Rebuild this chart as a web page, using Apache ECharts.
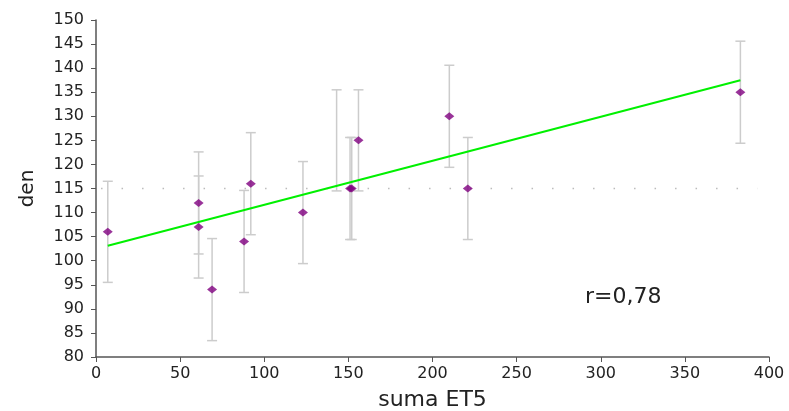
<!DOCTYPE html>
<html><head><meta charset="utf-8">
<script src="https://cdn.jsdelivr.net/npm/echarts@6/dist/echarts.min.js"></script>
<style>html,body{margin:0;padding:0;background:#fff}#c{width:789px;height:411px}</style>
</head><body><div id="c"></div>
<script>
// data
var xVals  = [7, 61, 61, 69, 88, 92, 123, 143, 151, 152, 156, 210, 221, 383];
var means  = [106, 112, 107, 94, 104, 116, 110, null, 115, 115, 125, 130, 115, 135];
var errLow = [95.5, 101.4, 96.4, 83.4, 93.4, 105.4, 99.4, 114.5, 104.4, 104.4, 114.5, 119.4, 104.4, 124.4];
var errHigh= [116.5, 122.6, 117.6, 104.6, 114.6, 126.6, 120.6, 135.5, 125.6, 125.6, 135.5, 140.6, 125.6, 145.6];
var regX = [7, 383];
var regY = [103.1, 137.5];
var meanLineX = [3, 393];
var meanLineY = 115;
var rText = 'r=0,78';

var FONT = 'DejaVu Sans';
var chart = echarts.init(document.getElementById('c'));
var pts = [], errs = [];
for (var i = 0; i < xVals.length; i++) {
  if (means[i] !== null) pts.push([xVals[i], means[i]]);
  errs.push([xVals[i], errLow[i], errHigh[i]]);
}
chart.setOption({
  animation: false,
  grid: {left: 96, right: 20, top: 20, bottom: 54, containLabel: false, outerBoundsMode: 'none'},
  xAxis: {
    type: 'value', min: 0, max: 400, interval: 50,
    name: 'suma ET5', nameLocation: 'middle', nameGap: 32,
    nameTextStyle: {fontFamily: FONT, fontSize: 22, color: '#222'},
    axisLine: {lineStyle: {color: '#555', width: 1.5}},
    axisTick: {show: true, length: 5, lineStyle: {color: '#555'}},
    axisLabel: {fontFamily: FONT, fontSize: 16, color: '#222', margin: 9},
    splitLine: {show: false}
  },
  yAxis: {
    type: 'value', min: 80, max: 150, interval: 5,
    name: 'den', nameLocation: 'middle', nameGap: 58, nameRotate: 90,
    nameTextStyle: {fontFamily: FONT, fontSize: 20, color: '#222'},
    axisLine: {show: true, lineStyle: {color: '#555', width: 1.5}},
    axisTick: {show: true, length: 5, lineStyle: {color: '#555'}},
    axisLabel: {fontFamily: FONT, fontSize: 16, color: '#222', margin: 12},
    splitLine: {show: false}
  },
  series: [
    {
      type: 'line', silent: true, symbol: 'none',
      data: [[meanLineX[0], meanLineY], [meanLineX[1], meanLineY]],
      lineStyle: {color: '#bbb', width: 1.5, type: [1.5, 19]}
    },
    {
      type: 'custom', silent: true,
      data: errs,
      renderItem: function (params, api) {
        var x = api.value(0);
        var lo = api.coord([x, api.value(1)]);
        var hi = api.coord([x, api.value(2)]);
        var w = 5;
        var st = {stroke: '#cccccc', lineWidth: 1.5};
        return {type: 'group', children: [
          {type: 'line', shape: {x1: lo[0], y1: lo[1], x2: hi[0], y2: hi[1]}, style: st},
          {type: 'line', shape: {x1: lo[0] - w, y1: lo[1], x2: lo[0] + w, y2: lo[1]}, style: st},
          {type: 'line', shape: {x1: hi[0] - w, y1: hi[1], x2: hi[0] + w, y2: hi[1]}, style: st}
        ]};
      },
      z: 2
    },
    {
      type: 'line', silent: true, symbol: 'none',
      data: [[regX[0], regY[0]], [regX[1], regY[1]]],
      lineStyle: {color: '#00f000', width: 2}, z: 3
    },
    {
      type: 'scatter', silent: true,
      data: pts, symbol: 'diamond', symbolSize: [10, 8],
      itemStyle: {color: '#800080'}, z: 4
    }
  ],
  graphic: [{
    type: 'text', left: 585, top: 286,
    style: {text: rText, fontFamily: FONT, fontSize: 22, fill: '#222'}
  }]
});
</script></body></html>
